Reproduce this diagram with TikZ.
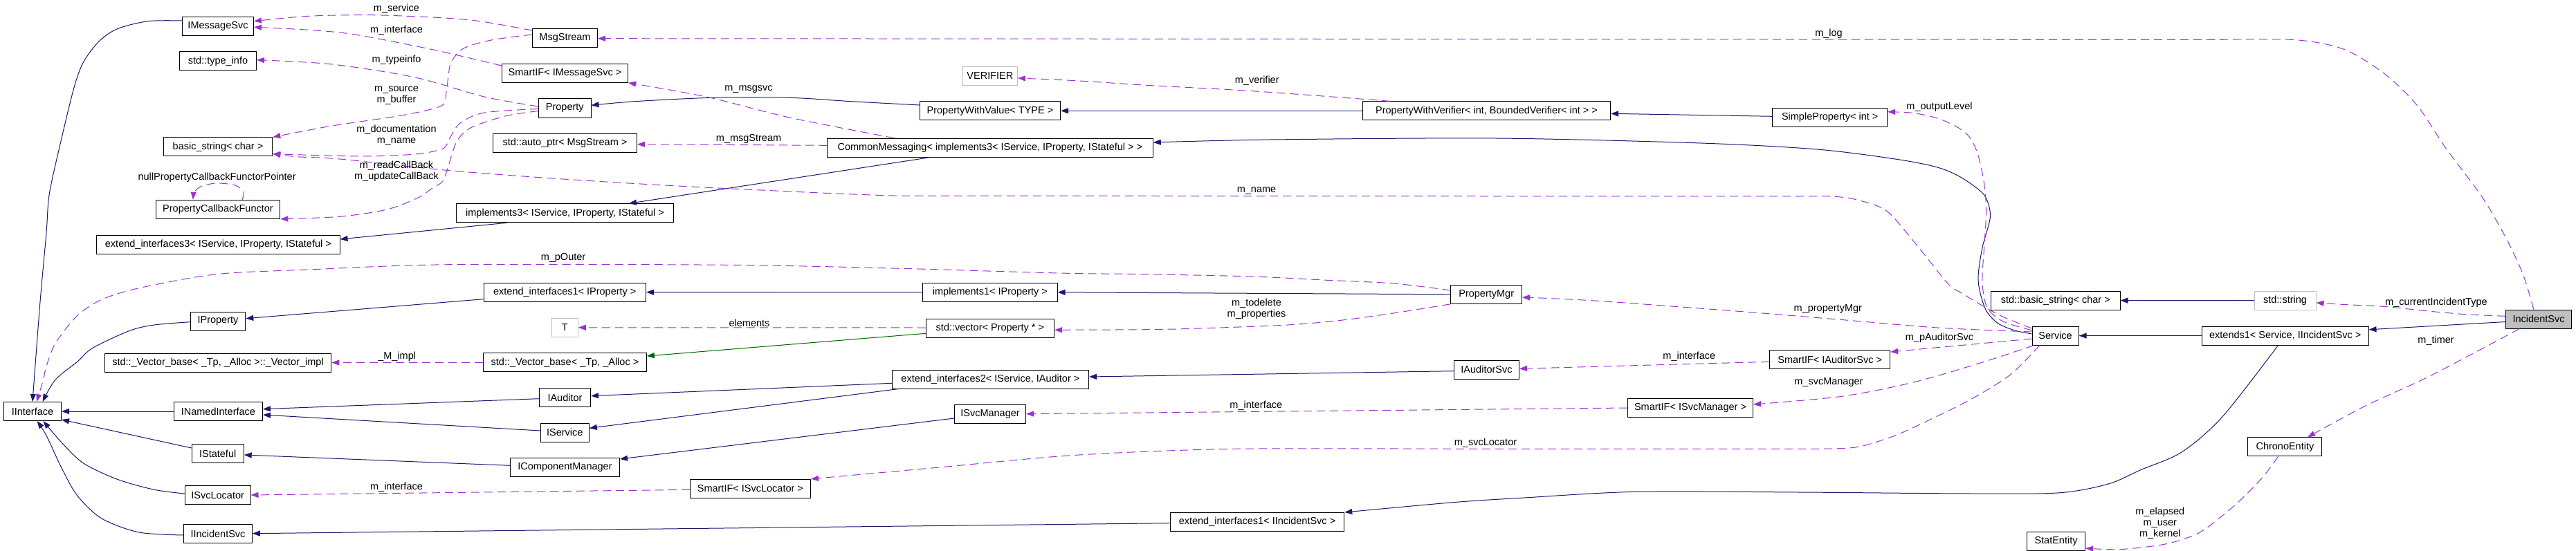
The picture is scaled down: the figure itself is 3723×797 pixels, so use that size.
\documentclass[tikz,border=0pt]{standalone}
\usepackage{fontspec}
\setmainfont{Liberation Sans}
\usetikzlibrary{arrows.meta}
\definecolor{inhblue}{HTML}{191970}
\definecolor{memviolet}{HTML}{9A32CD}
\definecolor{protgreen}{HTML}{006400}
\definecolor{undocgray}{HTML}{BFBFBF}

\begin{document}
\begin{tikzpicture}[x=1pt, y=-1pt, line width=1pt]
\tikzstyle{cls}=[draw, minimum height=27, inner xsep=2, font=\fontsize{14.5}{16}\selectfont]
\tikzstyle{undoc}=[cls, draw=undocgray]
\tikzstyle{curcls}=[cls, fill=undocgray]
\tikzstyle{lbl}=[inner sep=0, align=center, font=\fontsize{14.5}{16}\selectfont]
\tikzstyle{inh}=[draw=inhblue, -{Triangle[length=11pt, width=8pt]}]
\tikzstyle{prot}=[draw=protgreen, -{Triangle[length=11pt, width=8pt]}]
\tikzstyle{member}=[draw=memviolet, dash pattern=on 12pt off 7pt, -{Triangle[length=11pt, width=8pt]}]

\useasboundingbox (0,0) rectangle (3723,797);

% first column
\draw (315,37.8) node[cls, minimum width=103] (imsgsvc) {IMessageSvc};
\draw (315,88.3) node[cls, minimum width=111] (typeinfo) {std::type\_info};
\draw (315,212.3) node[cls, minimum width=157.6] (bstring) {basic\_string< char >};
\draw (315,302.8) node[cls, minimum width=179.6] (pcf) {PropertyCallbackFunctor};
\draw (315.4,353.8) node[cls, minimum width=351.3] (extif3) {extend\_interfaces3< IService, IProperty, IStateful >};
\draw (315,464.5) node[cls, minimum width=79.6] (iprop) {IProperty};
\draw (315,524.5) node[cls, minimum width=327.7] (vimpl) {std::\_Vector\_base< \_Tp, \_Alloc >::\_Vector\_impl};
\draw (47,595) node[cls, minimum width=83] (iiface) {IInterface};
\draw (315.4,595) node[cls, minimum width=128.2] (inamed) {INamedInterface};
\draw (314.7,656.3) node[cls, minimum width=75] (istate) {IStateful};
\draw (314.7,716.3) node[cls, minimum width=94.6] (isvcloc) {ISvcLocator};
\draw (315,772.3) node[cls, minimum width=98.7] (iincsvc) {IIncidentSvc};

% second column
\draw (816.5,54.8) node[cls, minimum width=93.8] (msgstream) {MsgStream};
\draw (816.5,105.8) node[cls, minimum width=182.2] (smimsg) {SmartIF< IMessageSvc >};
\draw (816.3,156.5) node[cls, minimum width=75.4] (property) {Property};
\draw (816.5,206.8) node[cls, minimum width=208] (autoptr) {std::auto\_ptr< MsgStream >};
\draw (816.5,308.3) node[cls, minimum width=314.3] (impl3) {implements3< IService, IProperty, IStateful >};
\draw (816.3,422.7) node[cls, minimum width=234.5] (extif1p) {extend\_interfaces1< IProperty >};
\draw (816.3,473.8) node[undoc, minimum width=38] (tnode) {T};
\draw (816.5,524.3) node[cls, minimum width=235.7] (vbase) {std::\_Vector\_base< \_Tp, \_Alloc >};
\draw (816.5,575) node[cls, minimum width=74.1] (iauditor) {IAuditor};
\draw (816.3,625.8) node[cls, minimum width=70] (iservice) {IService};
\draw (816.5,676.3) node[cls, minimum width=158] (icompmgr) {IComponentManager};
\draw (1084.4,706.8) node[cls, minimum width=174.1] (smsvcloc) {SmartIF< ISvcLocator >};

% third column
\draw (1430.9,110) node[undoc, minimum width=79.1] (verifier) {VERIFIER};
\draw (1431,160.3) node[cls, minimum width=203.1] (pwvalue) {PropertyWithValue< TYPE >};
\draw (1430.9,213.8) node[cls, minimum width=470.8] (cmsg) {CommonMessaging< implements3< IService, IProperty, IStateful > >};
\draw (1430.9,422.8) node[cls, minimum width=194.3] (impl1) {implements1< IProperty >};
\draw (1430.9,474.8) node[cls, minimum width=185.2] (vecprop) {std::vector< Property * >};
\draw (1431.4,548.5) node[cls, minimum width=284.2] (extif2) {extend\_interfaces2< IService, IAuditor >};
\draw (1431,598.7) node[cls, minimum width=103.1] (isvcmgr) {ISvcManager};
\draw (1817,755) node[cls, minimum width=251.6] (extif1i) {extend\_interfaces1< IIncidentSvc >};

% right part
\draw (2148.5,160.3) node[cls, minimum width=358.2] (pwverif) {PropertyWithVerifier< int, BoundedVerifier< int > >};
\draw (2148.2,425.8) node[cls, minimum width=102.5] (propmgr) {PropertyMgr};
\draw (2148.5,534.8) node[cls, minimum width=93.9] (iauditsvc) {IAuditorSvc};
\draw (2443,589.8) node[cls, minimum width=181.1] (smsvcmgr) {SmartIF< ISvcManager >};
\draw (2644.7,169.8) node[cls, minimum width=165.9] (simpprop) {SimpleProperty< int >};
\draw (2644.7,520.3) node[cls, minimum width=173.9] (smaudit) {SmartIF< IAuditorSvc >};
\draw (2970.8,434.6) node[cls, minimum width=186.4] (stdbstr) {std::basic\_string< char >};
\draw (2970.6,485.6) node[cls, minimum width=67] (service) {Service};
\draw (2971.5,782.6) node[cls, minimum width=84.1] (statent) {StatEntity};
\draw (3302.5,434.6) node[undoc, minimum width=89] (stdstr) {std::string};
\draw (3302.7,485.6) node[cls, minimum width=240.6] (extends1) {extends1< Service, IIncidentSvc >};
\draw (3302.4,646.4) node[cls, minimum width=107.1] (chrono) {ChronoEntity};
\draw (3669,461.6) node[curcls, minimum width=94.7] (incsvc) {IncidentSvc};

% inheritance
\draw (inamed.west) edge[inh] (iiface.east);
\draw ([yshift=8.3pt]istate.west) edge[inh] ([yshift=-12pt]iiface.east);
\draw[inh] plot[smooth] coordinates {([yshift=7.8pt]imsgsvc.west) (214,30.7) (169.6,41.7) (142.9,60) (120.5,90) (107,126.7) (89,200) (71.4,280) (67,336.7) (58,436.7) (iiface.north)};
\draw[inh] plot[smooth] coordinates {([yshift=-1.2pt]iprop.west) (223,470) (187.5,478.3) (134,503.3) (111.6,523.3) (80,549.3) ([xshift=14.6pt]iiface.north)};
\draw[inh] plot[smooth] coordinates {([yshift=2.3pt]isvcloc.west) (223,708.3) (169.6,693.3) (120.5,670) (89,640) ([xshift=15.5pt]iiface.south)};
\draw[inh] plot[smooth] coordinates {([yshift=-1.7pt]iincsvc.west) (201,770) (147,750) (111.6,716.7) (89,676.7) (67,630) ([xshift=6.6pt]iiface.south)};
\draw ([yshift=-1.7pt]iauditor.west) edge[inh] ([yshift=3.3pt]inamed.east);
\draw ([yshift=2.8pt]iservice.west) edge[inh] ([yshift=-5pt]inamed.east);
\draw ([yshift=3pt]icompmgr.west) edge[inh] ([yshift=-1.7pt]istate.east);
\draw ([yshift=-6.3pt]isvcmgr.west) edge[inh] ([yshift=-1.7pt]icompmgr.north east);
\draw ([yshift=-5.8pt]extif2.west) edge[inh] ([yshift=2.3pt]iauditor.east);
\draw ([xshift=10.3pt]extif2.south west) edge[inh] ([yshift=6.5pt]iservice.east);
\draw ([xshift=-84pt]impl3.south) edge[inh] ([yshift=7.8pt]extif3.east);
\draw ([xshift=-88pt]cmsg.south) edge[inh] ([xshift=92.5pt]impl3.north);
\draw[inh] plot[smooth] coordinates {([yshift=8.3pt]pwvalue.west) (1230,146.7) (1141,141.3) (1029.5,141.3) (917.9,146.7) ([yshift=4.2pt]property.east)};
\draw (pwverif.west) edge[inh] (pwvalue.east);
\draw ([yshift=1.5pt]simpprop.west) edge[inh] ([yshift=-4pt]pwverif.east);
\draw[inh] plot[smooth] coordinates {([yshift=2.6pt]service.west) (2912,478) (2888,468) (2871,450) (2862,424) (2859,399) (2865,358) (2876,317) (2874,296) (2865,279) (2835,257) (2800,242) (2739,230) (2626,216) (2458,207) (2162,200) (1836,202) ([yshift=7.8pt]cmsg.east)};
\draw (extends1.west) edge[inh] (service.east);
\draw ([yshift=-3.9pt]incsvc.west) edge[inh] ([yshift=8.8pt]extends1.east);
\draw (stdstr.west) edge[inh] (stdbstr.east);
\draw[inh] plot[smooth] coordinates {([xshift=-10.3pt]extends1.south) (3211.8,603) (3153,654) (3094,679.6) (3047,700) (2976.5,712.8) (2850,714) (2600,712) (2365,711.3) (2203,720) (2100,726.7) (extif1i.north east)};
\draw ([yshift=-1.7pt]extif1i.west) edge[inh] ([yshift=0.6pt]iincsvc.east);
\draw (impl1.west) edge[inh] (extif1p.east);
\draw ([yshift=-10pt]extif1p.west) edge[inh] ([yshift=3.8pt]iprop.east);
\draw (propmgr.west) edge[inh] (impl1.east);
\draw ([yshift=-1.9pt]iauditsvc.west) edge[inh] ([yshift=3.5pt]extif2.east);
\draw ([yshift=-7.5pt]vecprop.west) edge[prot] ([yshift=9.3pt]vbase.east);

% members
\draw[member] plot[smooth] coordinates {([yshift=10.8pt]msgstream.west) (720,35) (680,29) (625,25) (536,21.7) (446,23.3) ([yshift=7.1pt]imsgsvc.east)};
\draw[member] plot[smooth] coordinates {([yshift=10.8pt]smimsg.west) (625,71.7) (513,50) (446,43.3) ([yshift=-1.5pt]imsgsvc.east)};
\draw[member] plot[smooth] coordinates {([yshift=4.8pt]msgstream.west) (710,58) (670,70) (652,90) (648,110) (645,133) (638,153) (580,167) (480,182) (bstring.north east)};
\draw[member] plot[smooth] coordinates {([yshift=2.5pt]property.west) (700,140) (600,112) (480,93) ([yshift=1.6pt]typeinfo.east)};
\draw[member] plot[smooth] coordinates {([yshift=-1pt]property.west) (700,163) (665,178) (650,200) (640,215) (600,223) (520,226) ([yshift=-10.3pt]bstring.east)};
\draw[member] plot[smooth] coordinates {([yshift=-4pt]property.west) (730,168) (680,185) (660,205) (648,240) (640,262) (625,272) (602.7,286.7) (558,303.3) (491,313.3) (pcf.south east)};
\draw[member] plot[smooth] coordinates {([xshift=35pt]pcf.north) (352,278) (340,268) (312,265) (290,270) (281,278) ([xshift=-36pt]pcf.north)};
\draw[member] plot[smooth] coordinates {([xshift=-138pt]cmsg.north) (1141,170) (1020.5,140) (smimsg.south east)};
\draw ([yshift=3.5pt]cmsg.west) edge[member] ([yshift=-1.9pt]autoptr.east);
\draw[member] plot[smooth] coordinates {([xshift=-7.2pt]incsvc.north) (3647,398.6) (3623.5,347.5) (3588,286) (3535,214.6) (3494,153.3) (3447,107.3) (3388,71.5) (3317.6,57.7) (3200,57.5)} -- ([yshift=-0.9pt]msgstream.east);
\draw[member] plot[smooth] coordinates {([yshift=10.6pt]service.west) (2888,455) (2835,424) (2815,410) (2774.5,360) (2728.6,306.7) (2687.8,290) (2652,284.3) (2600,284)} --plot[smooth] coordinates {(1300,283.3) (1208,280) (998,270) (828.6,260) (650,246.7) (491,230) (428.6,226.7) ([yshift=-10.3pt]bstring.east)};
\draw[member] plot[smooth] coordinates {([yshift=5.8pt]propmgr.west) (2014,410) (1912,405) (1810,400) (1657,396.7) (1530,395) (1300,388.3) (1052,383.3) (650,382.7) (446,390) (312.5,396.7) (201,416.7) (147,433.3) (111.6,456.7) (80,496.7) (67,530) (62.5,549.3) ([xshift=6pt]iiface.north)};
\draw[member] plot[smooth] coordinates {(propmgr.south west) (2014,453) (1937.8,463.3) (1861,470) (1733.7,475) (1657,476.7) ([yshift=-2.5pt]vecprop.east)};
\draw ([yshift=0.8pt]vecprop.west) edge[member] (tnode.east);
\draw (vbase.west) edge[member] (vimpl.east);
\draw[member] plot[smooth] coordinates {([yshift=5.6pt]service.west) (2800,474) (2650,461.5) (2509,450) (2305,435) ([yshift=-4.2pt]propmgr.east)};
\draw ([yshift=-4.4pt]service.west) edge[member] ([yshift=11.3pt]smaudit.east);
\draw ([yshift=-3pt]smaudit.west) edge[member] ([yshift=1.5pt]iauditsvc.east);
\draw[member] plot[smooth] coordinates {([xshift=3pt]service.south west) (2859,526) (2764,553.3) (2662,573.3) ([yshift=4.8pt]smsvcmgr.east)};
\draw ([yshift=-0.2pt]smsvcmgr.west) edge[member] (isvcmgr.east);
\draw[member] plot[smooth] coordinates {([xshift=-23pt]service.south) (2906,541.6) (2850,576.7) (2790,606.7) (2738.8,630) (2687.8,646) (2647,649) (2600,649.3)} --plot[smooth] coordinates {(2100,649.3) (1784.7,649.3) (1555,658.3) (1350,676.7) (smsvcloc.north east)};
\draw ([yshift=-1.5pt]smsvcloc.west) edge[member] ([yshift=0.3pt]isvcloc.east);
\draw[member] plot[smooth] coordinates {([yshift=7.8pt]service.west) (2895,465) (2872,445) (2865,409) (2867.6,357.7) (2870.6,306.6) (2867.6,265.7) (2859,224.8) (2847,199) (2829,184) (2800,171) (2764,163.3) ([yshift=8pt]simpprop.east)};
\draw[member] plot[smooth] coordinates {([xshift=-139.5pt]pwverif.north) (1810,131.7) (1657,123.3) (1555,116.7) ([yshift=-3pt]verifier.east)};
\draw[member] plot[smooth] coordinates {([yshift=4.3pt]incsvc.west) (3564.7,454.8) (3505.9,449.7) (3447,443.5) (3388,440.5) ([yshift=-3.4pt]stdstr.east)};
\draw[member] plot[smooth] coordinates {([xshift=-28pt]incsvc.south) (3594,500.8) (3506,546.8) (3417.6,587.6) ([xshift=32.6pt]chrono.north)};
\draw[member] plot[smooth] coordinates {([xshift=-10pt]chrono.south) (3270.6,689.8) (3241,720.5) (3211.8,746) (3176.5,771.6) (3129.4,787) (3064.7,794.6) ([yshift=-10.4pt]statent.east)};

% member labels
\draw (573,13) node[lbl] (lservice) {m\_service};
\draw (573,44) node[lbl] (liface) {m\_interface};
\draw (573,87) node[lbl] (ltypeinfo) {m\_typeinfo};
\draw (573,138.5) node[lbl] (lsource) {m\_source\\m\_buffer};
\draw (573,196) node[lbl] (ldoc) {m\_documentation\\m\_name};
\draw (573,247.5) node[lbl] (lcallback) {m\_readCallBack\\m\_updateCallBack};
\draw (313.6,257) node[lbl] (lnullcb) {nullPropertyCallbackFunctorPointer};
\draw (573.7,516) node[lbl] (lmimpl) {\_M\_impl};
\draw (573,705) node[lbl] (lifaceloc) {m\_interface};
\draw (1082,129) node[lbl] (lmsgsvc) {m\_msgsvc};
\draw (1082,201) node[lbl] (lmsgstream) {m\_msgStream};
\draw (814,373) node[lbl] (louter) {m\_pOuter};
\draw (1083,467) node[lbl] (lelements) {elements};
\draw (1816.8,117) node[lbl] (lverifier) {m\_verifier};
\draw (1816,276) node[lbl] (lname) {m\_name};
\draw (1816,447) node[lbl] (ltodelete) {m\_todelete\\m\_properties};
\draw (1815.3,586.7) node[lbl] (lifacemgr) {m\_interface};
\draw (2643,49) node[lbl] (llog) {m\_log};
\draw (2803,155) node[lbl] (loutput) {m\_outputLevel};
\draw (2641.8,446.7) node[lbl] (lpropmgr) {m\_propertyMgr};
\draw (2803,488.7) node[lbl] (lauditsvc) {m\_pAuditorSvc};
\draw (2441.3,515.7) node[lbl] (lifaceaud) {m\_interface};
\draw (2642.9,553) node[lbl] (lsvcmgr) {m\_svcManager};
\draw (2147,640.7) node[lbl] (lsvcloc) {m\_svcLocator};
\draw (3521,438) node[lbl] (lincident) {m\_currentIncidentType};
\draw (3520.6,493) node[lbl] (ltimer) {m\_timer};
\draw (3121.8,756.6) node[lbl] (lchrono) {m\_elapsed\\m\_user\\m\_kernel};
\end{tikzpicture}
\end{document}
